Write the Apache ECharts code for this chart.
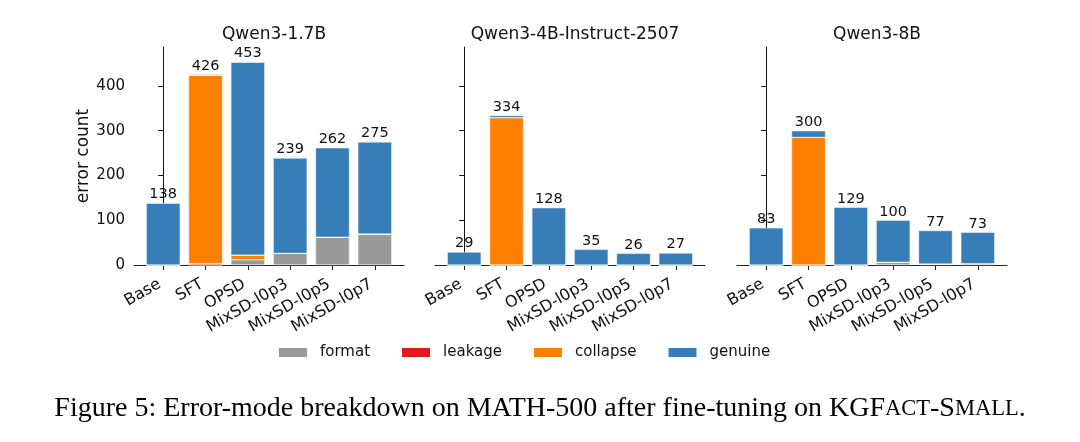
<!DOCTYPE html>
<html>
<head>
<meta charset="utf-8">
<script src="https://cdn.jsdelivr.net/npm/echarts@6/dist/echarts.min.js"></script>
<style>
  html, body { margin: 0; padding: 0; background: #fff; }
  #chart { width: 1080px; height: 442px; }
</style>
</head>
<body>
<div id="chart"></div>
<script>
const methods = ['Base', 'SFT', 'OPSD', 'MixSD-l0p3', 'MixSD-l0p5', 'MixSD-l0p7']
const models = ['Qwen3-1.7B', 'Qwen3-4B-Instruct-2507', 'Qwen3-8B']
const modes = ['format', 'leakage', 'collapse', 'genuine']
const modeColors = ['#999999', '#e41a1c', '#ff7f00', '#377eb8']

// one row per model, one value per method
const formatCounts = [
  [0, 0, 12, 26, 62, 69],
  [0, 0, 0, 0, 0, 0],
  [0, 0, 0, 6, 2, 3]
]
const leakageCounts = [
  [0, 3, 0, 0, 0, 0],
  [0, 0, 0, 0, 0, 0],
  [0, 0, 0, 0, 0, 0]
]
const collapseCounts = [
  [0, 421, 10, 0, 0, 0],
  [0, 329, 0, 0, 0, 0],
  [0, 285, 0, 0, 0, 0]
]
const genuineCounts = [
  [138, 2, 431, 213, 200, 206],
  [29, 5, 128, 35, 26, 27],
  [83, 15, 129, 94, 75, 70]
]
const totals = [
  [138, 426, 453, 239, 262, 275],
  [29, 334, 128, 35, 26, 27],
  [83, 300, 129, 100, 77, 73]
]
const yTicks = [0, 100, 200, 300, 400]

const modeData = [formatCounts, leakageCounts, collapseCounts, genuineCounts]
const gridLeft = [134, 435, 737]
const gridWidth = 270
const xIdx = methods.map((m, i) => i)

const chart = echarts.init(document.getElementById('chart'))

const options = {
  backgroundColor: '#fff',
  animation: false,
  textStyle: { fontFamily: 'DejaVu Sans' },
  grid: gridLeft.map(l => ({ left: l, width: gridWidth, top: 47, bottom: 177 })),
  title: models.map((name, i) => ({
    text: name,
    left: gridLeft[i] + gridWidth / 2,
    textAlign: 'center',
    top: 21,
    textStyle: { fontSize: 17, fontWeight: 'normal', color: '#111', fontFamily: 'DejaVu Sans' }
  })).concat([{
    text: 'Figure 5: Error-mode breakdown on MATH-500 after fine-tuning on KGF{sc|ACT}-S{sc|MALL}.',
    left: 'center',
    top: 390,
    textStyle: {
      fontSize: 28,
      fontWeight: 'normal',
      color: '#000',
      fontFamily: 'Liberation Serif',
      rich: {
        sc: { fontSize: 22.5, fontFamily: 'Liberation Serif', color: '#000' }
      }
    }
  }]),
  legend: {
    data: modes,
    left: 277,
    top: 345,
    padding: 0,
    icon: 'rect',
    itemWidth: 30,
    itemHeight: 11,
    itemGap: 30,
    textStyle: { fontSize: 15, color: '#111', padding: [0, 0, 0, 7] }
  },
  xAxis: models.map((m, i) => ({
    gridIndex: i,
    type: 'value',
    min: -0.69,
    max: 5.69,
    splitLine: { show: false },
    axisLine: { onZero: false, lineStyle: { color: '#222', width: 1 } },
    axisTick: { customValues: xIdx, length: 5, lineStyle: { color: '#222' } },
    axisLabel: {
      customValues: xIdx,
      formatter: v => methods[v],
      rotate: 30,
      fontSize: 16,
      color: '#111',
      margin: 16,
      padding: [0, 4, 0, 0]
    }
  })),
  yAxis: models.map((m, i) => ({
    gridIndex: i,
    type: 'value',
    min: 0,
    max: 487,
    splitLine: { show: false },
    axisLine: { show: true, lineStyle: { color: '#111', width: 1 } },
    axisTick: { show: true, customValues: yTicks, length: 5, lineStyle: { color: '#111' } },
    axisLabel: { show: i === 0, customValues: yTicks, fontSize: 15, color: '#111', margin: 9 },
    name: i === 0 ? 'error count' : '',
    nameLocation: 'middle',
    nameGap: 42,
    nameTextStyle: { fontSize: 17, color: '#111' }
  }))
}

options.series = []
models.forEach((model, i) => {
  modes.forEach((mode, k) => {
    const s = {
      type: 'bar',
      name: mode,
      xAxisIndex: i,
      yAxisIndex: i,
      stack: 'total' + i,
      barWidth: 34,
      // value first so the stack runs on the count, not on the x position
      encode: { x: 1, y: 0 },
      itemStyle: { color: modeColors[k], borderColor: '#fff', borderWidth: 0.5 },
      data: modeData[k][i].map((v, j) => [v, j])
    }
    if (mode === 'genuine') {
      s.label = {
        show: true,
        position: 'top',
        distance: 1,
        fontSize: 14.5,
        color: '#111',
        formatter: p => totals[i][p.dataIndex]
      }
    }
    options.series.push(s)
  })
})

chart.setOption(options)
</script>
</body>
</html>
